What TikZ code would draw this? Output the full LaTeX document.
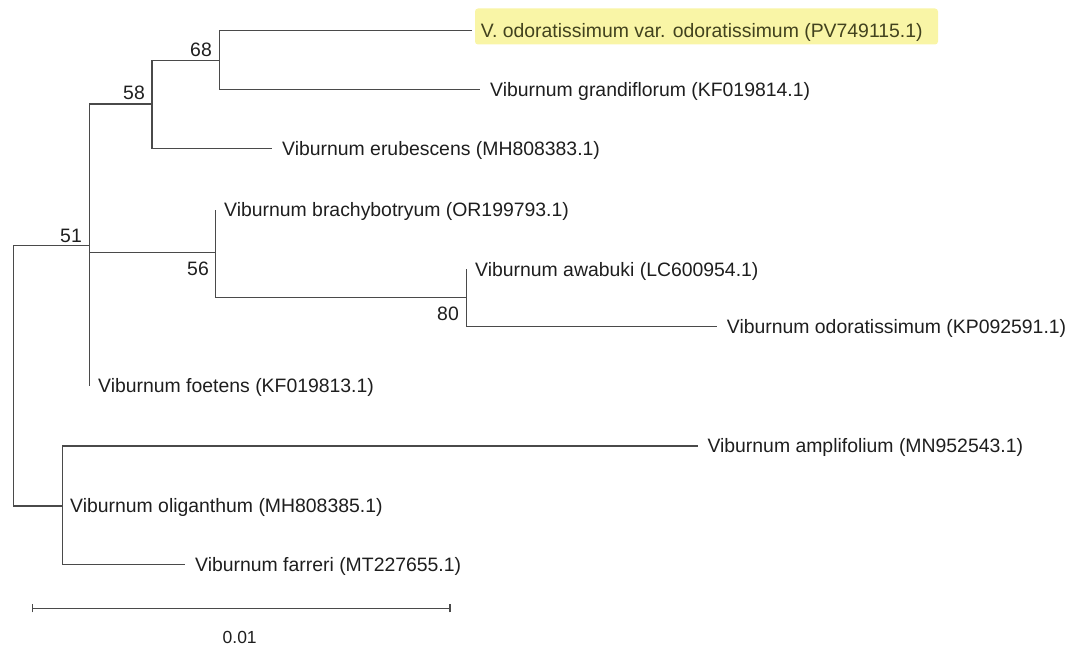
\documentclass[tikz,border=0pt]{standalone}
\usepackage{fontspec}
\setmainfont{Liberation Sans}
\definecolor{branch}{HTML}{4A4A4A}
\definecolor{labeltext}{HTML}{1E1E1E}
\definecolor{hilite}{RGB}{249,245,166}
\definecolor{hilitetext}{HTML}{42421E}
\begin{document}
\begin{tikzpicture}[x=1pt,y=-1pt,
  edge/.style={draw=branch,line width=1.5pt},
  taxon/.style={anchor=base west,inner sep=0pt,text=labeltext,
    font=\fontsize{19.4}{22}\selectfont},
  boot/.style={anchor=base east,inner sep=0pt,text=labeltext,
    font=\fontsize{19.4}{22}\selectfont},
  scalelabel/.style={anchor=base,inner sep=0pt,text=labeltext,
    font=\fontsize{17.5}{20}\selectfont}]
\useasboundingbox (0,0) rectangle (1068,647);

% internal nodes
\coordinate (root) at (13.3,375.8);
\coordinate (n51) at (89.3,245.7);
\coordinate (n58) at (152,104);
\coordinate (n68) at (219.5,60.7);
\coordinate (n56) at (215.7,252.3);
\coordinate (n80) at (466.7,297.3);
\coordinate (nout) at (62.7,506);

% branch tips
\coordinate (tvo) at (471.7,30.7);
\coordinate (tgra) at (480,89.3);
\coordinate (teru) at (272,148.7);
\coordinate (tbra) at (215.7,210);
\coordinate (tawa) at (466.7,269.3);
\coordinate (todo) at (717,326.7);
\coordinate (tfoe) at (89.3,386);
\coordinate (tamp) at (698.3,446);
\coordinate (toli) at (62.7,506);
\coordinate (tfar) at (185,564.3);

% highlighted taxon
\fill[hilite,rounded corners=3pt] (475,8.5) rectangle (938,44.5);

% taxon labels
\node[taxon,text=hilitetext] (lvo) at (480.7,37.6) {V. odoratissimum var. odoratissimum (PV749115.1)};
\node[taxon] (lgra) at (490,96.2) {Viburnum grandiflorum (KF019814.1)};
\node[taxon] (leru) at (282,155.6) {Viburnum erubescens (MH808383.1)};
\node[taxon] (lbra) at (224,216.9) {Viburnum brachybotryum (OR199793.1)};
\node[taxon] (lawa) at (475,276.2) {Viburnum awabuki (LC600954.1)};
\node[taxon] (lodo) at (726.7,333.6) {Viburnum odoratissimum (KP092591.1)};
\node[taxon] (lfoe) at (98,392.9) {Viburnum foetens (KF019813.1)};
\node[taxon] (lamp) at (707.3,452.9) {Viburnum amplifolium (MN952543.1)};
\node[taxon] (loli) at (70,512.9) {Viburnum oliganthum (MH808385.1)};
\node[taxon] (lfar) at (195,571.2) {Viburnum farreri (MT227655.1)};

% bootstrap values
\node[boot] (b68) at (212,56.5) {68};
\node[boot] (b58) at (145,99.5) {58};
\node[boot] (b51) at (82,242.3) {51};
\node[boot] (b56) at (209,275.3) {56};
\node[boot] (b80) at (459,320) {80};

% branches
\draw[edge] (root) |- (n51);
\draw[edge] (root) |- (nout);
\draw[edge] (n51) |- (n58);
\draw[edge] (n51) |- (n56);
\draw[edge] (n51) |- (tfoe);
\draw[edge] (n58) |- (n68);
\draw[edge] (n58) |- (teru);
\draw[edge] (n68) |- (tvo);
\draw[edge] (n68) |- (tgra);
\draw[edge] (n56) |- (tbra);
\draw[edge] (n56) |- (n80);
\draw[edge] (n80) |- (tawa);
\draw[edge] (n80) |- (todo);
\draw[edge] (nout) |- (tamp);
\draw[edge] (nout) |- (tfar);

% scale bar
\coordinate (sa) at (32.7,608.3);
\coordinate (sb) at (450,608.3);
\draw[edge] (sa) -- (sb);
\draw[edge] ([yshift=-4]sa) -- ([yshift=4]sa);
\draw[edge] ([yshift=-4]sb) -- ([yshift=4]sb);
\node[scalelabel] (slab) at (239.7,643.5) {0.01};
\end{tikzpicture}
\end{document}
